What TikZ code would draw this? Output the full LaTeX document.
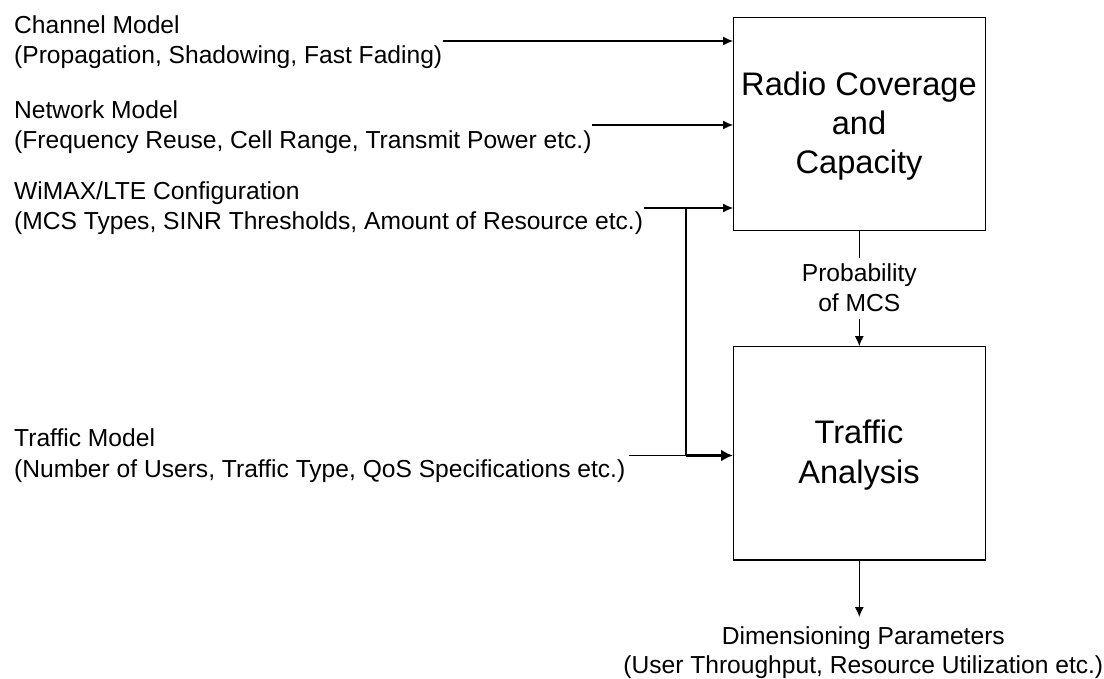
\documentclass[tikz,border=0pt]{standalone}
\usepackage{fontspec}
\setmainfont{Liberation Sans}
\usetikzlibrary{arrows.meta}
\begin{document}
\begin{tikzpicture}[x=1pt,y=-1pt,
  boxed/.style={draw,line width=1.2pt,inner sep=0pt},
  lab/.style={anchor=west,align=left,inner sep=0pt,font=\fontsize{24.6}{29.5}\selectfont},
  clab/.style={align=center,inner sep=0pt,font=\fontsize{24.6}{30}\selectfont},
  big/.style={align=center,inner sep=0pt,font=\fontsize{32.6}{39}\selectfont},
  conn/.style={line width=1.1pt,-{Latex[length=10pt,width=9pt]}},
  thickconn/.style={line width=2.4pt,-{Latex[length=12pt,width=12pt]}},
  plainline/.style={line width=1.1pt}]
\useasboundingbox (0,0) rectangle (1104,678);
\node[boxed,minimum width=252.4pt,minimum height=213.2pt] (rc) at (859.5,124.1) {};
\node[big] (rct) at (859,126) {Radio Coverage\\and\\Capacity};
\node[boxed,minimum width=252.4pt,minimum height=213.3pt] (ta) at (859.5,453.3) {};
\node[big,font=\fontsize{32.6}{40}\selectfont] (tat) at (859,455) {Traffic\\Analysis};
\node[lab] (a) at (14,42) {Channel Model\\(Propagation, Shadowing, Fast Fading)};
\node[lab] (b) at (14,127) {Network Model\\(Frequency Reuse, Cell Range, Transmit Power etc.)};
\node[lab] (c) at (14,208) {WiMAX/LTE Configuration\\(MCS Types, SINR Thresholds, Amount of Resource etc.)};
\node[lab,font=\fontsize{24.6}{31}\selectfont] (d) at (14,456) {Traffic Model\\(Number of Users, Traffic Type, QoS Specifications etc.)};
\node[clab] (p) at (859.3,288) {Probability\\of MCS};
\node[clab,font=\fontsize{24.6}{28.5}\selectfont] (o) at (863.3,652.5) {Dimensioning Parameters\\(User Throughput, Resource Utilization etc.)};
\coordinate (ra) at (733,41);
\coordinate (rb) at (733,125);
\coordinate (rc3) at (733,208);
\coordinate (j) at (686,208);
\coordinate (k) at (686,455.5);
\coordinate (t) at (733,455.5);
\coordinate (sa) at (443,41);
\coordinate (sb) at (592,125);
\coordinate (sc) at (644,208);
\coordinate (sd) at (629,455.5);
\coordinate (pu) at (859.3,258);
\coordinate (pd) at (859.3,319);
\coordinate (ot) at (859.3,617);
\draw[conn] (sa) -- (ra);
\draw[conn] (sb) -- (rb);
\draw[conn] (sc) -- (rc3);
\draw[plainline] (j) -- (k);
\draw[plainline] (sd) -- (k);
\draw[thickconn] (k) -- (t);
\draw[plainline] (rc.south -| pu) -- (pu);
\draw[conn] (pd) -- (pd |- ta.north);
\draw[conn] (ta.south -| ot) -- (ot);
\end{tikzpicture}
\end{document}
